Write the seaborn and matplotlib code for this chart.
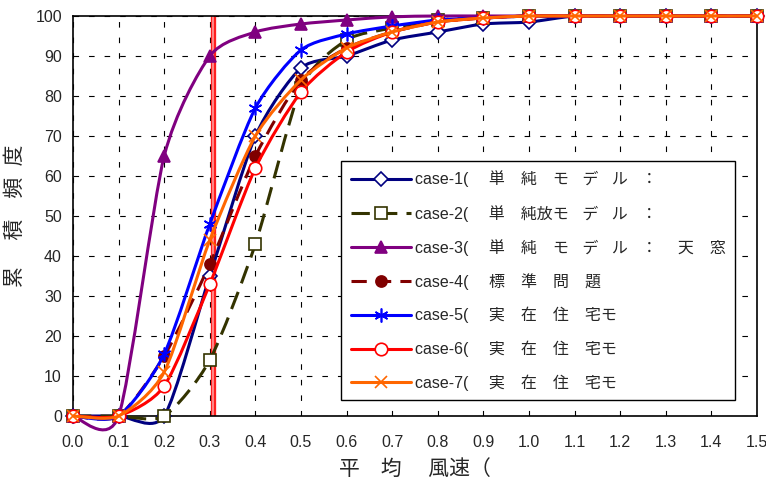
import numpy as np
import pandas as pd
import matplotlib
matplotlib.use("Agg")
import matplotlib.pyplot as plt
import seaborn as sns
from matplotlib.path import Path
from matplotlib.patches import PathPatch
from matplotlib.lines import Line2D

# data
wind = [0.0, 0.1, 0.2, 0.3, 0.4, 0.5, 0.6, 0.7, 0.8, 0.9, 1.0, 1.1, 1.2, 1.3, 1.4, 1.5]
case1 = [0, 0, 0, 35, 70, 87, 90, 94, 96, 98, 98.5, 100, 100, 100, 100, 100]
case2 = [0, 0, 0, 14, 43, 82, 94, 97, 99, 99.5, 100, 100, 100, 100, 100, 100]
case3 = [0, 0, 65, 90, 96, 98, 99, 99.8, 100, 100, 100, 100, 100, 100, 100, 100]
case4 = [0, 0, 15, 38, 65, 84, 92, 96, 98.5, 99.5, 100, 100, 100, 100, 100, 100]
case5 = [0, 0, 15.5, 48, 77, 91.5, 95.5, 97.5, 99, 99.5, 100, 100, 100, 100, 100, 100]
case6 = [0, 0, 7.5, 33, 62, 81, 91, 96, 98.5, 99.5, 100, 100, 100, 100, 100, 100]
case7 = [0, 0, 11, 44, 70, 84, 92, 96, 98.5, 99.5, 100, 100, 100, 100, 100, 100]
marker_line = 0.307

S = "\u3000"   # full-width space
H = "   "      # narrower gap
labels = [
    "case-1( " + S + "単" + S + "純" + S + "モ" + H + "デ" + H + "ル" + H + "：",
    "case-2( " + S + "単" + S + "純放モ" + H + "デ" + H + "ル" + H + "：",
    "case-3( " + S + "単" + S + "純" + S + "モ" + H + "デ" + H + "ル" + H + "：" + S + " 天" + S + "窓",
    "case-4( " + S + "標" + S + "準" + S + "問" + S + "題",
    "case-5( " + S + "実" + S + "在" + S + "住" + S + "宅モ",
    "case-6( " + S + "実" + S + "在" + S + "住" + S + "宅モ",
    "case-7( " + S + "実" + S + "在" + S + "住" + S + "宅モ",
]
series = [case1, case2, case3, case4, case5, case6, case7]

# colour / marker per case
styles = [
    dict(color="#000080", marker="D", mfc="white", ms=7, dash=None),
    dict(color="#333300", marker="s", mfc="white", ms=8, dash=(6, 3)),
    dict(color="#800080", marker="^", mfc="#800080", ms=9, dash=None),
    dict(color="#800000", marker="o", mfc="#800000", ms=8, dash=(5, 3)),
    dict(color="#0000ff", marker=(6, 2, 0), mfc="#0000ff", ms=10, dash=None),
    dict(color="#ff0000", marker="o", mfc="white", ms=9, dash=None),
    dict(color="#ff6600", marker="x", mfc="#ff6600", ms=9, dash=None),
]

sns.set_style("white")
plt.rcParams["font.family"] = ["Liberation Sans", "Noto Sans CJK JP"]


def smooth_path(xs, ys, k=0.12):
    # Excel-like smoothed line as cubic bezier segments through the data points
    pts = np.column_stack([xs, ys]).astype(float)
    verts = [pts[0]]
    codes = [Path.MOVETO]
    n = len(pts)
    for i in range(n - 1):
        p0 = pts[i - 1] if i > 0 else pts[i]
        p1 = pts[i]
        p2 = pts[i + 1]
        p3 = pts[i + 2] if i + 2 < n else pts[i + 1]
        verts += [p1 + (p2 - p0) * k, p2 - (p3 - p1) * k, p2]
        codes += [Path.CURVE4] * 3
    return Path(verts, codes)


fig = plt.figure(figsize=(7.66, 4.84), dpi=100)
ax = fig.add_axes([73 / 766, 68 / 484, 684 / 766, 400 / 484])

ax.axvline(marker_line, color="#ff2020", lw=3.8, zorder=1.5)
ax.axvline(marker_line, color="#ff9a9a", lw=1.2, zorder=1.6)

handles = []
for i, (vals, st) in enumerate(zip(series, styles)):
    z = 3 + i
    lw = 2.2
    ls = "-" if st["dash"] is None else (0, st["dash"])
    patch = PathPatch(smooth_path(wind, vals), fill=False, edgecolor=st["color"],
                      lw=lw, linestyle=ls, zorder=z, clip_on=False, capstyle="butt")
    ax.add_patch(patch)
    df = pd.DataFrame({"wind": wind, "freq": vals})
    sns.lineplot(data=df, x="wind", y="freq", ax=ax, linestyle="", marker=st["marker"],
                 markersize=st["ms"], markerfacecolor=st["mfc"], markeredgecolor=st["color"],
                 markeredgewidth=1.2, color=st["color"], zorder=z + 0.5, clip_on=False)
    handles.append(Line2D([], [], color=st["color"], lw=lw, linestyle=ls, marker=st["marker"],
                          markersize=st["ms"], markerfacecolor=st["mfc"],
                          markeredgecolor=st["color"], markeredgewidth=1.2))

ax.set_xlim(0, 1.5)
ax.set_ylim(0, 100)
ax.set_xticks(wind)
ax.set_xticklabels([f"{v:.1f}" for v in wind])
ax.set_yticks(range(0, 101, 10))
ax.tick_params(direction="in", length=4, width=1, labelsize=11.5, color="black")
ax.tick_params(axis="x", pad=14)
ax.tick_params(axis="y", pad=8)
ax.grid(True, color="black", linestyle=(0, (5, 9)), lw=0.8)
for sp in ax.spines.values():
    sp.set_color("black")
    sp.set_linewidth(1.2)

ax.set_xlabel("平" + S + "均" + S + " 風速（", fontsize=15)
ax.xaxis.set_label_coords(0.5, -0.108)
ax.set_ylabel("累" + S + " 積" + S + "頻  度", fontsize=15)
ax.yaxis.set_label_coords(-0.071, 0.5)

leg = ax.legend(handles, labels, loc="upper left", bbox_to_anchor=(0.392, 0.6375),
                fontsize=11.5, frameon=True, fancybox=False, framealpha=1,
                edgecolor="black", handlelength=3.75, handletextpad=0.25,
                labelspacing=1.08, borderpad=0.6, borderaxespad=0)
leg.get_frame().set_linewidth(1.0)
leg.set_zorder(20)

fig.savefig("out.png", dpi=100)
